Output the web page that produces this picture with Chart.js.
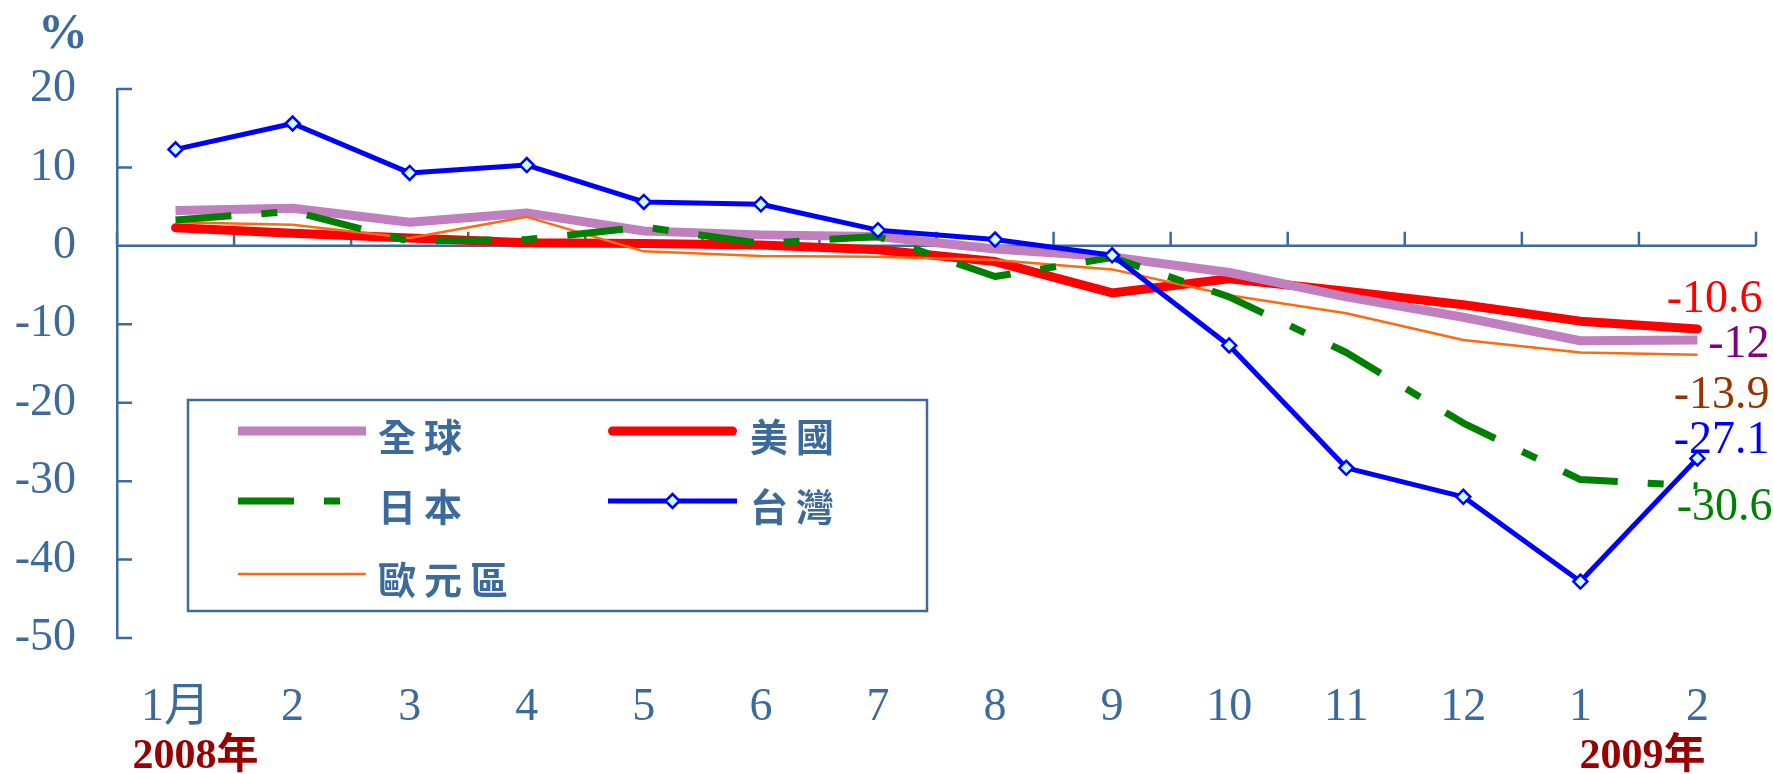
<!DOCTYPE html>
<html>
<head>
<meta charset="utf-8">
<script src="https://cdn.jsdelivr.net/npm/chart.js@4.4.1/dist/chart.umd.min.js"></script>
<style>
  html, body { margin: 0; padding: 0; background: #fff; }
  #wrap { width: 1773px; height: 774px; }
</style>
</head>
<body>
<div id="wrap"><canvas id="chart" width="1773" height="774"></canvas></div>
<script>
// 2008/1 - 2009/2 月別、前年同月比 (%)
const months = ['1月', '2', '3', '4', '5', '6', '7', '8', '9', '10', '11', '12', '1', '2'];
const seriesNames = ['全球', '美國', '日本', '台灣', '歐元區'];

const worldVals  = [4.5, 4.8, 3.0, 4.2, 1.9, 1.4, 1.2, -0.4, -1.4, -3.4, -6.5, -9.1, -12.1, -12];
const usVals     = [2.3, 1.6, 1.0, 0.4, 0.3, 0.1, -0.5, -2.0, -6.0, -4.2, -5.8, -7.5, -9.6, -10.6];
const japanVals  = [3.3, 4.4, 0.6, 0.8, 2.4, 0.3, 1.2, -3.9, -1.5, -6.5, -13.6, -22.6, -29.8, -30.6];
const taiwanVals = [12.3, 15.6, 9.3, 10.3, 5.6, 5.3, 2.0, 0.8, -1.2, -12.7, -28.3, -32.0, -42.8, -27.1];
const euroVals   = [3.0, 2.7, 1.0, 3.7, -0.7, -1.3, -1.4, -1.8, -3.0, -6.3, -8.6, -12.0, -13.6, -13.9];

const yTicks = [20, 10, 0, -10, -20, -30, -40, -50];
const yearLabels = ['2008年', '2009年'];

const axisBlue = '#3b6a9b';
const serif = "'Liberation Serif', 'Noto Sans CJK TC', serif";

// 最終月の数値ラベル：色とずれ（右端, 縦）
const endLabelStyle = [
  { color: '#800080', dx: 72, dy: 2 },
  { color: '#ff0000', dx: 65, dy: -32 },
  { color: '#008000', dx: 75, dy: 19 },
  { color: '#0000ff', dx: 72, dy: -20 },
  { color: '#993300', dx: 72, dy: 38 }
];

// ゼロ線と目盛り（x は上向き、y は右向き）
const axisMarks = {
  id: 'axisMarks',
  beforeDatasetsDraw(chart) {
    const { ctx, chartArea, scales: { x, y } } = chart;
    const y0 = y.getPixelForValue(0);
    const half = (x.getPixelForValue(1) - x.getPixelForValue(0)) / 2;
    ctx.save();
    ctx.strokeStyle = axisBlue;
    ctx.lineWidth = 2.5;
    ctx.beginPath();
    ctx.moveTo(chartArea.left, y0);
    ctx.lineTo(chartArea.right, y0);
    for (let i = 0; i <= months.length; i++) {
      const px = i < months.length ? x.getPixelForValue(i) - half : x.getPixelForValue(months.length - 1) + half;
      ctx.moveTo(px, y0);
      ctx.lineTo(px, y0 - 14);
    }
    yTicks.forEach(v => {
      const py = y.getPixelForValue(v);
      ctx.moveTo(chartArea.left, py);
      ctx.lineTo(chartArea.left + 15, py);
    });
    ctx.stroke();

    // 単位と年
    ctx.fillStyle = axisBlue;
    ctx.font = "bold 50px " + serif;
    ctx.textAlign = 'center';
    ctx.textBaseline = 'alphabetic';
    ctx.fillText('%', 63, 48);

    ctx.fillStyle = '#990000';
    ctx.font = "bold 42px " + serif;
    ctx.textAlign = 'left';
    ctx.fillText(yearLabels[0], x.getPixelForValue(0) - 43, 768);
    ctx.textAlign = 'right';
    ctx.fillText(yearLabels[1], x.getPixelForValue(months.length - 1) + 8, 768);
    ctx.restore();
  }
};

const endLabels = {
  id: 'endLabels',
  afterDatasetsDraw(chart) {
    const { ctx } = chart;
    ctx.save();
    ctx.font = "46px " + serif;
    ctx.textAlign = 'right';
    ctx.textBaseline = 'alphabetic';
    chart.data.datasets.forEach((ds, i) => {
      const meta = chart.getDatasetMeta(i);
      const last = meta.data[meta.data.length - 1];
      const st = endLabelStyle[i];
      ctx.fillStyle = st.color;
      ctx.fillText(String(ds.data[ds.data.length - 1]), last.x + st.dx, last.y + st.dy + 15);
    });
    ctx.restore();
  }
};

// 凡例（枠つき、2 列）
const boxLegend = {
  id: 'boxLegend',
  afterDraw(chart) {
    const { ctx } = chart;
    const box = { l: 188, t: 400, r: 927, b: 611 };
    const cols = [{ x0: 238, x1: 366, tx: 378 }, { x0: 608, x1: 737, tx: 750 }];
    const rows = [431, 501, 574];
    ctx.save();
    ctx.fillStyle = '#fff';
    ctx.fillRect(box.l, box.t, box.r - box.l, box.b - box.t);
    ctx.strokeStyle = axisBlue;
    ctx.lineWidth = 2.5;
    ctx.strokeRect(box.l, box.t, box.r - box.l, box.b - box.t);

    chart.data.datasets.forEach((ds, i) => {
      const c = cols[i % 2];
      const yy = rows[Math.floor(i / 2)];
      ctx.save();
      ctx.strokeStyle = ds.borderColor;
      ctx.lineWidth = ds.borderWidth;
      ctx.lineCap = ds.borderCapStyle || 'butt';
      ctx.setLineDash(ds.borderDash || []);
      const inset = ctx.lineCap === 'round' ? ds.borderWidth / 2 : 0;
      ctx.beginPath();
      ctx.moveTo(c.x0 + inset, yy);
      ctx.lineTo(c.x1 - inset, yy);
      ctx.stroke();
      ctx.setLineDash([]);
      if (ds.pointRadius > 0) {
        const mx = (c.x0 + c.x1) / 2, r = ds.pointRadius;
        ctx.beginPath();
        ctx.moveTo(mx, yy - r);
        ctx.lineTo(mx + r, yy);
        ctx.lineTo(mx, yy + r);
        ctx.lineTo(mx - r, yy);
        ctx.closePath();
        ctx.fillStyle = ds.pointBackgroundColor;
        ctx.fill();
        ctx.lineWidth = ds.pointBorderWidth;
        ctx.strokeStyle = ds.pointBorderColor;
        ctx.stroke();
      }
      ctx.restore();

      ctx.fillStyle = axisBlue;
      ctx.font = "bold 38px 'Noto Sans CJK TC'";
      ctx.textAlign = 'left';
      ctx.textBaseline = 'middle';
      Array.from(ds.label).forEach((ch, k) => ctx.fillText(ch, c.tx + k * 46, yy + 6));
    });
    ctx.restore();
  }
};

const ctx = document.getElementById('chart').getContext('2d');
new Chart(ctx, {
  type: 'line',
  data: {
    labels: months,
    datasets: [
      { label: seriesNames[0], data: worldVals, borderColor: '#c080c0', borderWidth: 9, pointRadius: 0, order: 4 },
      { label: seriesNames[1], data: usVals, borderColor: '#ff0000', borderWidth: 9, borderCapStyle: 'round', pointRadius: 0, order: 5 },
      { label: seriesNames[2], data: japanVals, borderColor: '#008000', borderWidth: 7, borderDash: [56, 30, 16, 30], pointRadius: 0, order: 2 },
      { label: seriesNames[3], data: taiwanVals, borderColor: '#0000ff', borderWidth: 5,
        pointStyle: 'rectRot', pointRadius: 7, pointBackgroundColor: '#ccffff', pointBorderColor: '#0000ff', pointBorderWidth: 2.5, order: 1 },
      { label: seriesNames[4], data: euroVals, borderColor: '#ff6a10', borderWidth: 2.5, pointRadius: 0, order: 3 }
    ]
  },
  options: {
    responsive: false,
    devicePixelRatio: 1,
    animation: false,
    elements: { line: { tension: 0, borderJoinStyle: 'round' } },
    layout: { padding: { top: 89, right: 17, left: 0, bottom: 0 } },
    plugins: { legend: { display: false }, tooltip: { enabled: false } },
    scales: {
      x: {
        offset: true,
        grid: { display: false },
        border: { display: false },
        ticks: { color: axisBlue, font: { family: serif, size: 46 }, padding: 34, maxRotation: 0, autoSkip: false },
        afterFit(scale) { scale.height = 136; }
      },
      y: {
        min: -50,
        max: 20,
        grid: { display: false },
        border: { display: true, color: axisBlue, width: 2.5 },
        ticks: { stepSize: 10, color: axisBlue, font: { family: serif, size: 46 }, padding: 33 },
        afterFit(scale) { scale.width = 117; }
      }
    }
  },
  plugins: [axisMarks, endLabels, boxLegend]
});
</script>
</body>
</html>
